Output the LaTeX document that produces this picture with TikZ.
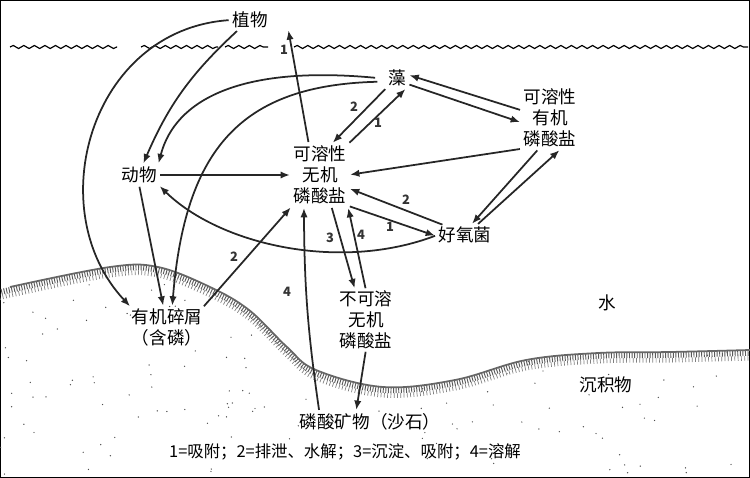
\documentclass[tikz,border=0pt]{standalone}
\usepackage{fontspec}
\setmainfont{Noto Sans CJK SC}
\usetikzlibrary{arrows.meta,decorations.pathmorphing}
\tikzset{
  lbl/.style={font=\fontsize{15}{18}\selectfont, align=center, inner sep=1pt},
  num/.style={font=\fontsize{11}{12}\selectfont\bfseries, text=black!80, inner sep=0pt},
  arr/.style={-{Latex[length=2.8mm,width=2.2mm]}, line width=1.5pt, black!85, shorten >=2pt, shorten <=2pt},
  wave/.style={decorate, decoration={snake, amplitude=1.3, segment length=9}, line width=1pt}
}
\begin{document}
\begin{tikzpicture}[x=0.03cm,y=-0.03cm]
\useasboundingbox (0,0) rectangle (750,478);
\draw[line width=1pt] (0.5,0.5) rectangle (749.5,477.5);
% water surface
\draw[wave] (10,47)--(117,47);
\draw[wave] (141,47)--(218,47);
\draw[wave] (225,47)--(268,47);
\draw[wave] (294,47)--(748,47);
% sediment
\begin{scope}
\clip plot[smooth,tension=0.6] coordinates{(0,290) (10,287) (110,267) (158,267) (210,287) (249,310) (287,347) (316,370) (383,387) (455,380) (526,360) (598,353) (670,352) (750,350)} -- (750,478) -- (0,478) -- cycle;
\pgfmathsetseed{11}
\foreach \i in {1,...,220}{
  \pgfmathsetmacro\rx{rnd*750}
  \pgfmathsetmacro\ry{255+rnd*220}
  \fill[black!70] (\rx,\ry) circle (0.7);
}
\draw[black!65, line width=5pt, dash pattern=on 0.8pt off 1.4pt, yshift=-2.5pt] plot[smooth,tension=0.6] coordinates{(0,290) (10,287) (110,267) (158,267) (210,287) (249,310) (287,347) (316,370) (383,387) (455,380) (526,360) (598,353) (670,352) (750,350)};
\draw[black!50, line width=4pt, dash pattern=on 0.6pt off 2.2pt, yshift=-7pt] plot[smooth,tension=0.6] coordinates{(0,290) (10,287) (110,267) (158,267) (210,287) (249,310) (287,347) (316,370) (383,387) (455,380) (526,360) (598,353) (670,352) (750,350)};
\end{scope}
\draw[black!60, line width=1.5pt] plot[smooth,tension=0.6] coordinates{(10,287) (110,267) (158,267) (210,287) (249,310) (287,347) (316,370) (383,387) (455,380) (526,360) (598,353) (670,352) (750,350)};
% nodes
\node[lbl, fill=white] (zw) at (250,20) {植物};
\node[lbl] (zao) at (397,78) {藻};
\node[lbl] (yj) at (550,118) {可溶性\\有机\\磷酸盐};
\node[lbl] (wj) at (320,175) {可溶性\\无机\\磷酸盐};
\node[lbl] (dw) at (139,175) {动物};
\node[lbl] (hy) at (465,235) {好氧菌};
\node[lbl, fill=white, inner sep=0pt] (sx) at (167,327) {有机碎屑\\（含磷）};
\node[lbl, fill=white, inner sep=0pt] (bk) at (366,320) {不可溶\\无机\\磷酸盐};
\node[lbl] (kw) at (370,422) {磷酸矿物（沙石）};
\node[lbl] (water) at (607,303) {水};
\node[lbl] (sed) at (606,385) {沉积物};
\node[lbl, font=\fontsize{14}{16}\selectfont] (key) at (345,452) {1=吸附；2=排泄、水解；3=沉淀、吸附；4=溶解};
\coordinate (up) at (288,28);
% connectors
\draw[arr] (wj.110) -- (up);
\draw[arr] (zw.220) to[bend right=12] (dw.70);
\draw[arr] (zw.west) .. controls (90,30) and (40,210) .. (sx.north west);
\draw[arr] ([xshift=-8pt]zao.west) .. controls (240,65) and (175,100) .. (dw.north east);
\draw[arr] ([xshift=-6pt]zao.200) .. controls (240,85) and (185,150) .. (sx.75);
\draw[arr] (dw.east) -- (wj.west);
\draw[arr] (dw.south) -- (sx.100);
\draw[arr] (hy.west) .. controls (340,272) and (220,245) .. (dw.south east);
\draw[arr] (sx.north east) -- (wj.south west);
\draw[arr] ([xshift=18pt]kw.north west) to[bend left=4] ([xshift=10pt]wj.south west);
\draw[arr] (wj.290) -- (bk.110);
\draw[arr] (bk.north) -- (wj.south east);
\draw[arr] (bk.south) -- ([xshift=-12pt]kw.north);
\draw[arr] (zao.south west) -- (wj.70);
\draw[arr] (wj.north east) -- (zao.south east);
\draw[arr] (yj.165) -- ([yshift=3pt]zao.east);
\draw[arr] ([yshift=-5pt]zao.east) -- (yj.190);
\draw[arr] (yj.south west) -- (wj.east);
\draw[arr] (yj.250) -- (hy.60);
\draw[arr] (hy.40) -- (yj.290);
\draw[arr] (hy.155) -- (wj.335);
\draw[arr] (wj.312) -- (hy.183);
% numbers
\node[num] at (284,50) {1};
\node[num] at (354,107) {2};
\node[num] at (378,123) {1};
\node[num] at (406,200) {2};
\node[num] at (390,227) {1};
\node[num] at (234,257) {2};
\node[num] at (330,238) {3};
\node[num] at (361,235) {4};
\node[num] at (287,292) {4};
\end{tikzpicture}
\end{document}
